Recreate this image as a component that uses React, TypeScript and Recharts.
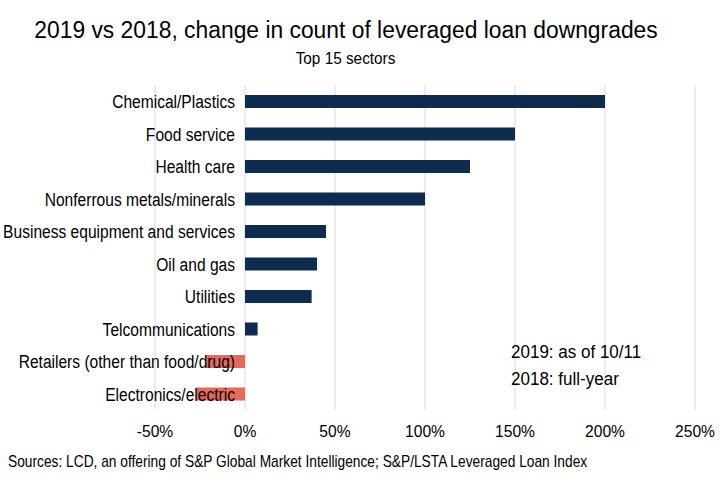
import { BarChart, Bar, XAxis, YAxis, CartesianGrid, Cell } from "recharts";

const sectors = [
  "Chemical/Plastics",
  "Food service",
  "Health care",
  "Nonferrous metals/minerals",
  "Business equipment and services",
  "Oil and gas",
  "Utilities",
  "Telcommunications",
  "Retailers (other than food/drug)",
  "Electronics/electric",
];
const changePct = [200, 150, 125, 100, 45, 40, 37, 7, -21.5, -27];
const xTicks = [-50, 0, 50, 100, 150, 200, 250];

const FONT = "'Liberation Sans', Arial, sans-serif";
const NAVY = "#0e2d4e";
const SALMON = "#e8685a";

const data = sectors.map((name, i) => ({ name, value: changePct[i] }));

// labels sit next to the 0% line, like the Excel original
const LABEL_X = 235;

function SectorTick(props: any) {
  const { y, payload } = props;
  return (
    <g transform={`translate(${LABEL_X},${y + 7}) scale(0.82,1)`}>
      <text x={0} y={0} textAnchor="end" fill="#000" fontSize={19} fontFamily={FONT}>
        {payload.value}
      </text>
    </g>
  );
}

function PctTick(props: any) {
  const { x, y, payload } = props;
  return (
    <g transform={`translate(${x},${y + 19}) scale(0.92,1)`}>
      <text x={0} y={0} textAnchor="middle" fill="#000" fontSize={17} fontFamily={FONT}>
        {`${payload.value}%`}
      </text>
    </g>
  );
}

function Label({ x, y, s, size, anchor = "start", children }: any) {
  return (
    <g transform={`translate(${x},${y}) scale(${s},1)`}>
      <text x={0} y={0} textAnchor={anchor} fill="#000" fontSize={size} fontFamily={FONT}>
        {children}
      </text>
    </g>
  );
}

export default function App() {
  return (
    <div style={{ position: "absolute", left: 0, top: 0, width: 720, height: 482, background: "#fff" }}>
      <BarChart
        width={720}
        height={482}
        data={data}
        layout="vertical"
        margin={{ top: 85, right: 25, bottom: 42, left: 154 }}
        barSize={13}
      >
        <CartesianGrid horizontal={false} stroke="#d9d9d9" />
        <XAxis
          type="number"
          domain={[-50, 250]}
          ticks={xTicks}
          axisLine={false}
          tickLine={false}
          height={30}
          tick={<PctTick />}
        />
        <Bar dataKey="value" isAnimationActive={false}>
          {data.map((d, i) => (
            <Cell key={i} fill={d.value < 0 ? SALMON : NAVY} />
          ))}
        </Bar>
        <YAxis
          type="category"
          dataKey="name"
          width={1}
          axisLine={false}
          tickLine={false}
          interval={0}
          tick={<SectorTick />}
        />
      </BarChart>
      <svg width={720} height={482} style={{ position: "absolute", left: 0, top: 0, pointerEvents: "none" }}>
        <Label x={346} y={38} s={0.925} size={24.7} anchor="middle">
          2019 vs 2018, change in count of leveraged loan downgrades
        </Label>
        <Label x={345.5} y={64} s={0.93} size={16.5} anchor="middle">
          Top 15 sectors
        </Label>
        <Label x={511} y={358} s={0.92} size={18.5}>
          2019: as of 10/11
        </Label>
        <Label x={511} y={385} s={0.92} size={18.5}>
          2018: full-year
        </Label>
        <Label x={8} y={467} s={0.86} size={16}>
          Sources: LCD, an offering of S&amp;P Global Market Intelligence; S&amp;P/LSTA Leveraged Loan Index
        </Label>
      </svg>
    </div>
  );
}
